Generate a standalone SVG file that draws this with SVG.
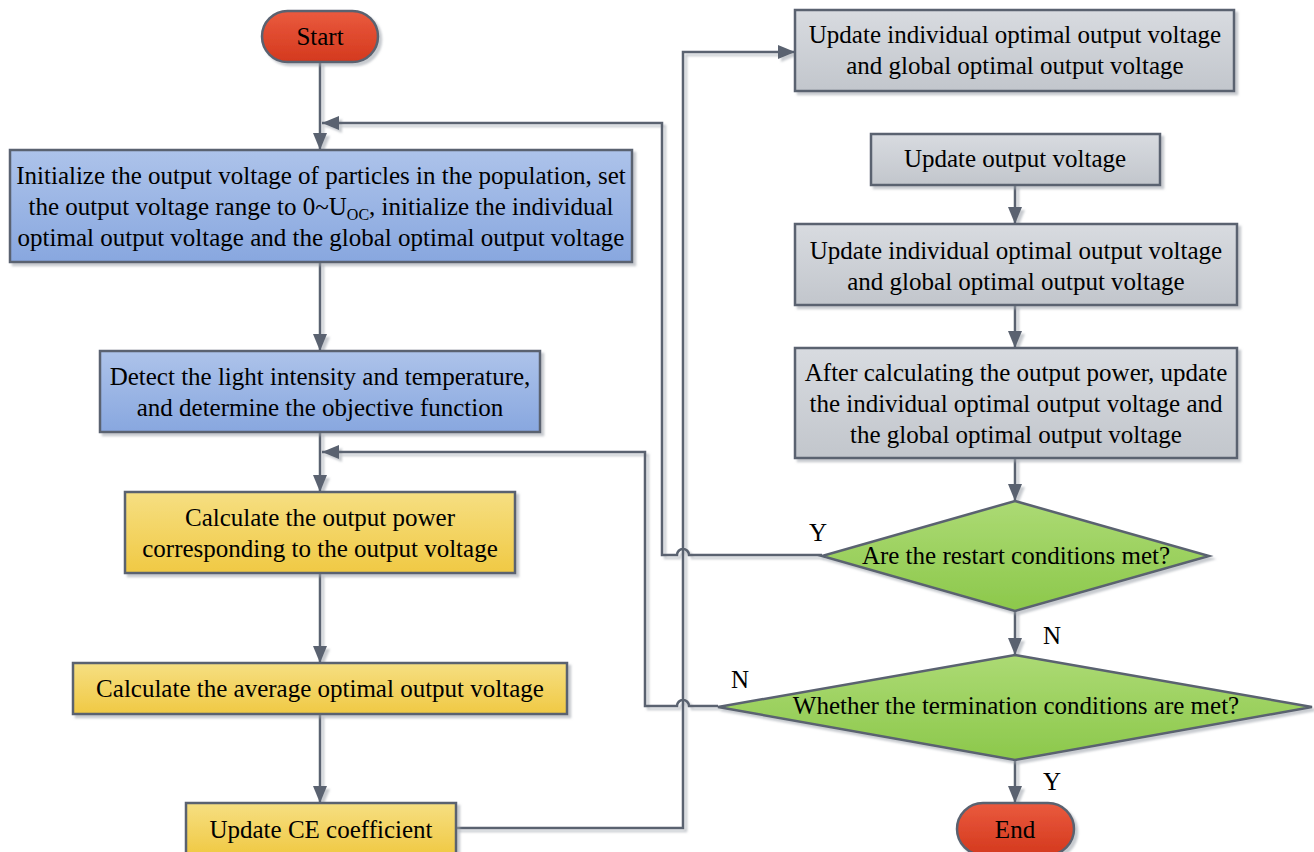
<svg xmlns="http://www.w3.org/2000/svg" width="1314" height="852" viewBox="0 0 1314 852">
<style>
text{font-family:"Liberation Serif","Times New Roman",serif;font-size:25px;fill:#000;text-anchor:middle}
.n{stroke:#5a6270;stroke-width:2.5;filter:url(#sh)}
.c{fill:none;stroke:#5a6270;stroke-width:2.5}
</style>
<defs>
<filter id="sh" x="-10%" y="-10%" width="120%" height="130%">
<feDropShadow dx="3" dy="3" stdDeviation="1.2" flood-color="#9aa0a8" flood-opacity="0.55"/>
</filter>
<linearGradient id="gr" x1="0" y1="0" x2="0" y2="1"><stop offset="0" stop-color="#ea5a3e"/><stop offset="1" stop-color="#d4391e"/></linearGradient>
<linearGradient id="gb" x1="0" y1="0" x2="0" y2="1"><stop offset="0" stop-color="#adc3ea"/><stop offset="1" stop-color="#88a7df"/></linearGradient>
<linearGradient id="gy" x1="0" y1="0" x2="0" y2="1"><stop offset="0" stop-color="#f6df82"/><stop offset="1" stop-color="#f0c944"/></linearGradient>
<linearGradient id="gg" x1="0" y1="0" x2="0" y2="1"><stop offset="0" stop-color="#d8dbe0"/><stop offset="1" stop-color="#c2c6cc"/></linearGradient>
<linearGradient id="gn" x1="0" y1="0" x2="0" y2="1"><stop offset="0" stop-color="#acda74"/><stop offset="1" stop-color="#8cc84b"/></linearGradient>
<marker id="ar" markerUnits="userSpaceOnUse" markerWidth="18" markerHeight="14" refX="17" refY="7" orient="auto">
<path d="M0,0 L17,7 L0,14 z" fill="#5a6270"/>
</marker>
</defs>

<g id="connectors" filter="url(#sh)">
<path class="c" d="M320,62 V150" marker-end="url(#ar)"/>
<path class="c" d="M320,262 V351" marker-end="url(#ar)"/>
<path class="c" d="M320,432 V492" marker-end="url(#ar)"/>
<path class="c" d="M320,573 V663" marker-end="url(#ar)"/>
<path class="c" d="M320,714 V803" marker-end="url(#ar)"/>
<path class="c" d="M456,828 H683 V52 H795" marker-end="url(#ar)"/>
<path class="c" d="M1015,185 V224" marker-end="url(#ar)"/>
<path class="c" d="M1015,305 V348" marker-end="url(#ar)"/>
<path class="c" d="M1015,458 V501" marker-end="url(#ar)"/>
<path class="c" d="M1015,611 V655" marker-end="url(#ar)"/>
<path class="c" d="M1015,760 V803" marker-end="url(#ar)"/>
<path class="c" d="M822,555 H689 A6,6 0 0 0 677,555 H662 V123 H322" marker-end="url(#ar)"/>
<path class="c" d="M718,706 H689 A6,6 0 0 0 677,706 H645 V452 H322" marker-end="url(#ar)"/>
</g>

<g id="start"><rect class="n" x="262" y="11" width="116" height="51" rx="25.5" fill="url(#gr)"/><text x="320" y="45">Start</text></g>

<g id="init"><rect class="n" x="10" y="150" width="622" height="112" fill="url(#gb)"/>
<text x="321" y="184">Initialize the output voltage of particles in the population, set</text>
<text x="321" y="215">the output voltage range to 0~U<tspan font-size="16" dy="5">OC</tspan><tspan dy="-5">, initialize the individual</tspan></text>
<text x="321" y="246">optimal output voltage and the global optimal output voltage</text></g>

<g id="detect"><rect class="n" x="100" y="351" width="440" height="81" fill="url(#gb)"/>
<text x="320" y="385">Detect the light intensity and temperature,</text>
<text x="320" y="416">and determine the objective function</text></g>

<g id="calcpower"><rect class="n" x="125" y="492" width="390" height="81" fill="url(#gy)"/>
<text x="320" y="526">Calculate the output power</text>
<text x="320" y="557">corresponding to the output voltage</text></g>

<g id="calcavg"><rect class="n" x="73" y="663" width="494" height="51" fill="url(#gy)"/>
<text x="320" y="697">Calculate the average optimal output voltage</text></g>

<g id="updatece"><rect class="n" x="186" y="803" width="270" height="52" fill="url(#gy)"/>
<text x="321" y="838">Update CE coefficient</text></g>

<g id="upd1"><rect class="n" x="795" y="10" width="439" height="81" fill="url(#gg)"/>
<text x="1015" y="43">Update individual optimal output voltage</text>
<text x="1015" y="74">and global optimal output voltage</text></g>

<g id="updvolt"><rect class="n" x="871" y="134" width="289" height="51" fill="url(#gg)"/>
<text x="1015" y="167">Update output voltage</text></g>

<g id="upd2"><rect class="n" x="795" y="224" width="442" height="81" fill="url(#gg)"/>
<text x="1016" y="259">Update individual optimal output voltage</text>
<text x="1016" y="290">and global optimal output voltage</text></g>

<g id="afterpower"><rect class="n" x="795" y="348" width="442" height="110" fill="url(#gg)"/>
<text x="1016" y="381">After calculating the output power, update</text>
<text x="1016" y="412">the individual optimal output voltage and</text>
<text x="1016" y="443">the global optimal output voltage</text></g>

<g id="restart"><path class="n" d="M1015,501 L1209,556 L1015,611 L822,556 Z" fill="url(#gn)"/>
<text x="1016" y="564">Are the restart conditions met?</text>
<text x="818" y="541">Y</text></g>

<g id="terminate"><path class="n" d="M1015,655 L1312,707 L1015,760 L718,707 Z" fill="url(#gn)"/>
<text x="1016" y="714">Whether the termination conditions are met?</text>
<text x="740" y="688">N</text></g>

<text x="1052" y="644">N</text>
<text x="1052" y="790">Y</text>

<g id="end"><rect class="n" x="957" y="803" width="117" height="52" rx="26" fill="url(#gr)"/><text x="1015" y="838">End</text></g>
</svg>
